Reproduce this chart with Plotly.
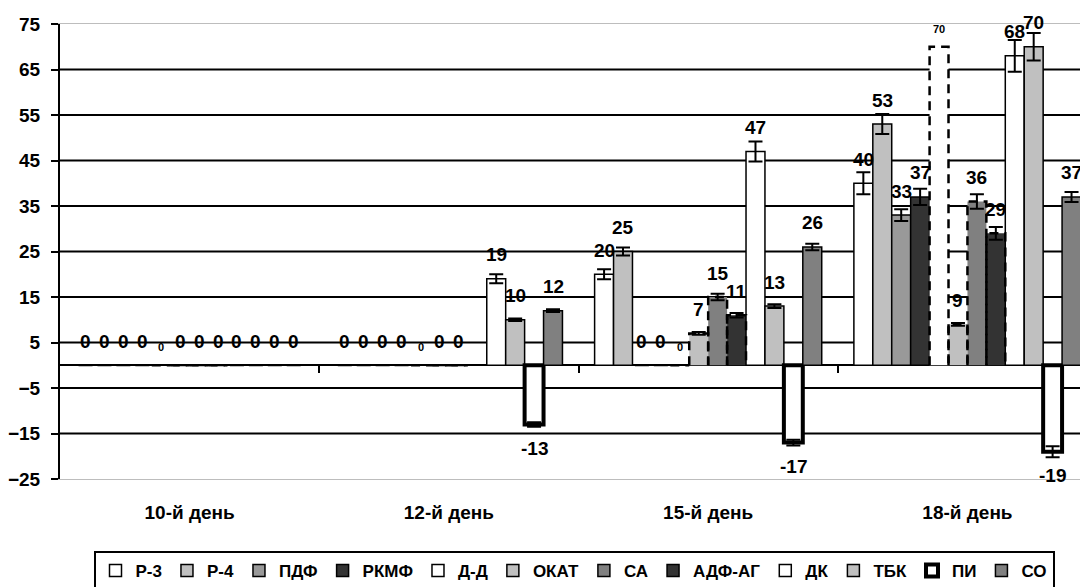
import plotly.graph_objects as go

# ---------------- data ----------------
days = ["10-й день", "12-й день", "15-й день", "18-й день"]
series_names = ["Р-3", "Р-4", "ПДФ", "РКМФ", "Д-Д", "ОКАТ", "СА", "АДФ-АГ", "ДК", "ТБК", "ПИ", "СО"]

r3 = [0, 0, 20, 40]
r4 = [0, 0, 25, 53]
pdf = [0, 0, 0, 33]
rkmf = [0, 0, 0, 37]
dd = [0, 0, 0, 70]
okat = [0, 0, 7, 9]
sa = [0, 0, 15, 36]
adf_ag = [0, None, 11, 29]
dk = [0, 19, 47, 68]
tbk = [0, 10, 13, 70]
pi = [0, -13, -17, -19]
so = [0, 12, 26, 37]

r3_err = [0, 0, 1.1, 2.4]
r4_err = [0, 0, 0.9, 2.2]
pdf_err = [0, 0, 0, 1.3]
rkmf_err = [0, 0, 0, 1.8]
dd_err = [None, None, None, None]
okat_err = [0, 0, 0.3, 0.3]
sa_err = [0, 0, 0.7, 1.6]
adf_ag_err = [0, None, 0.5, 1.4]
dk_err = [0, 1.0, 2.2, 3.5]
tbk_err = [0, 0.3, 0.4, 3.0]
pi_err = [0, 0.5, 0.65, 1.2]
so_err = [0, 0.3, 0.7, 1.1]

y_ticks = [-25, -15, -5, 5, 15, 25, 35, 45, 55, 65, 75]

series_values = [r3, r4, pdf, rkmf, dd, okat, sa, adf_ag, dk, tbk, pi, so]
series_errors = [r3_err, r4_err, pdf_err, rkmf_err, dd_err, okat_err, sa_err,
                 adf_ag_err, dk_err, tbk_err, pi_err, so_err]

# ---------------- styles ----------------
fills = ["#FFFFFF", "#C0C0C0", "#999999", "#333333", "#FFFFFF", "#C0C0C0",
         "#808080", "#333333", "#FFFFFF", "#C0C0C0", "#FFFFFF", "#808080"]
dashed = [False, False, False, False, True, True, True, True, False, False, False, False]
line_w = [1.5, 1.5, 1.5, 1.5, 0, 0, 0, 0, 1.5, 1.5, 4, 1.5]
legend_line_w = [1.5, 1.5, 1.5, 1.5, 1.5, 1.5, 1.5, 1.5, 1.5, 1.5, 4, 1.5]
small_label = [False, False, False, False, True, False, False, False, False, False, False, False]

FONT = "Liberation Sans, Arial, sans-serif"
# page body has an 8px default margin: compensate so the chart lands where the reference has it
W, H = 1080, 579
n = len(series_names)
bar_w = 0.073
x_range = [-0.5, 3.465]
y_range = [y_ticks[0], y_ticks[-1]]

fig = go.Figure()

for s_i, name in enumerate(series_names):
    vals = series_values[s_i]
    errs = series_errors[s_i]
    xs = [g + (s_i - (n - 1) / 2) * bar_w for g in range(len(days))]
    err_ok = any(e is not None for e in errs)
    lw = [line_w[s_i] if (v not in (0, None) or line_w[s_i] == 0) else 1.5 for v in vals]
    fig.add_trace(go.Bar(
        x=xs, y=vals, width=bar_w, name=name,
        marker=dict(color=fills[s_i], line=dict(color="black", width=lw)),
        error_y=dict(type="data", array=errs, color="black", thickness=2, width=7,
                     visible=err_ok),
        showlegend=False, hoverinfo="skip",
    ))
    if dashed[s_i]:
        px_, py_ = [], []
        for x, v in zip(xs, vals):
            if v is None:
                continue
            x0, x1 = x - bar_w / 2, x + bar_w / 2
            px_ += [x0, x0, x1, x1, None]
            py_ += [0, v, v, 0, None]
        fig.add_trace(go.Scatter(
            x=px_, y=py_, mode="lines", showlegend=False, hoverinfo="skip",
            line=dict(color="black", width=2.5, dash="9px,6px"),
        ))
    # legend entry
    fig.add_trace(go.Bar(
        x=[None], y=[None], name=name,
        marker=dict(color=fills[s_i], line=dict(color="black", width=legend_line_w[s_i])),
        showlegend=True, hoverinfo="skip",
    ))
    # value labels
    for x, v in zip(xs, vals):
        if v is None:
            continue
        small = small_label[s_i]
        shift = (18 if small else 24) * (1 if v >= 0 else -1)
        fig.add_annotation(
            x=x, y=v, text=str(v), showarrow=False, yshift=shift,
            xanchor="center", yanchor="middle",
            font=dict(family=FONT, size=11 if small else 19, color="black", weight="bold"),
        )

# invisible helper trace for the zero-line tick axis
fig.add_trace(go.Scatter(x=[None], y=[None], xaxis="x2", showlegend=False, hoverinfo="skip"))

# gridlines (interior)
for v in y_ticks[1:-1]:
    fig.add_hline(y=v, line=dict(color="black", width=2), layer="below")

zero_pos = (0 - y_range[0]) / (y_range[1] - y_range[0])

fig.update_layout(
    width=W, height=H,
    margin=dict(l=48, r=0, t=16, b=H - 16 - 455),
    paper_bgcolor="white", plot_bgcolor="white",
    barmode="overlay",
    font=dict(family=FONT, color="black"),
    xaxis=dict(
        range=x_range, tickmode="array", tickvals=list(range(len(days))), ticktext=days,
        ticks="outside", ticklen=16, tickcolor="rgba(0,0,0,0)",
        showline=True, linecolor="#BDBDBD", linewidth=1, mirror=True,
        showgrid=False, zeroline=False,
        tickfont=dict(family=FONT, size=19, color="black", weight="bold"),
    ),
    xaxis2=dict(
        overlaying="x", anchor="free", position=zero_pos, side="bottom",
        range=x_range, tickmode="array",
        tickvals=[g + 0.5 for g in range(len(days) - 1)],
        ticks="outside", ticklen=7, tickwidth=2, tickcolor="black",
        showticklabels=False, showline=False, showgrid=False, zeroline=False,
    ),
    yaxis=dict(
        range=y_range, tickmode="array", tickvals=y_ticks,
        ticks="outside", ticklen=7, tickwidth=2, tickcolor="black",
        showline=True, linecolor="black", linewidth=2,
        showgrid=False, zeroline=True, zerolinecolor="black", zerolinewidth=2,
        ticklabelstandoff=7,
        tickfont=dict(family=FONT, size=19, color="black", weight="bold"),
    ),
    legend=dict(
        orientation="h", x=0.5, xanchor="center",
        yref="container", y=1 - 543 / H, yanchor="top",
        bordercolor="black", borderwidth=2, bgcolor="white",
        font=dict(family=FONT, size=17, color="black", weight="bold"),
        itemwidth=30, tracegroupgap=0,
    ),
)

fig.write_html("out.html")
